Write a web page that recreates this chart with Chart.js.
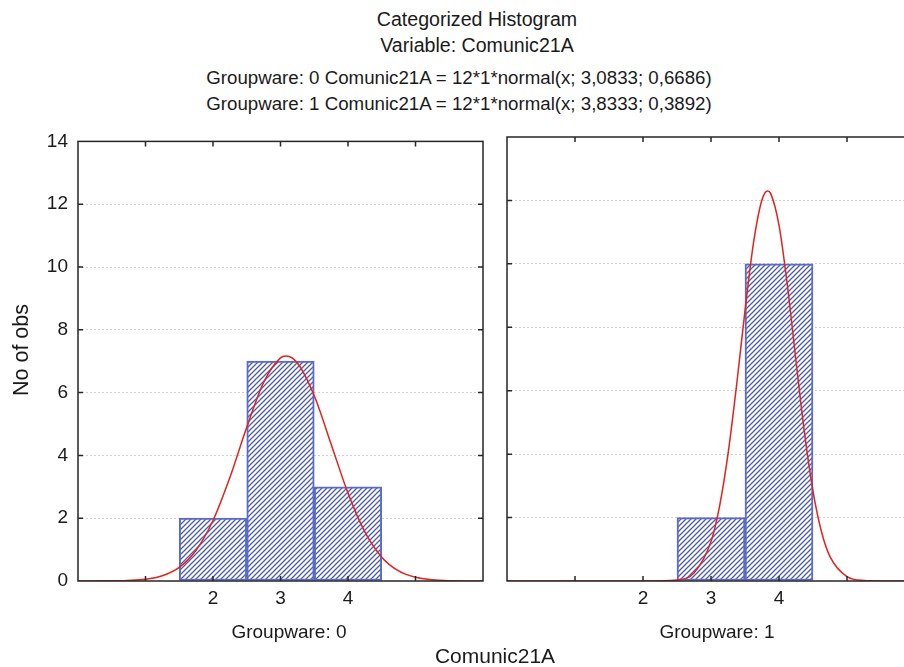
<!DOCTYPE html>
<html><head><meta charset="utf-8">
<script src="https://cdn.jsdelivr.net/npm/chart.js@4.4.1/dist/chart.umd.min.js"></script>
<style>
html,body{margin:0;padding:0;background:#fff;}
#wrap{position:relative;width:904px;height:667px;overflow:hidden;background:#fff;font-family:"Liberation Sans",Arial,sans-serif;color:#1a1a1a;}
.t{position:absolute;left:0;text-align:center;white-space:nowrap;}
.a{width:954px;font-size:19.6px;line-height:19px;}
.b{width:918px;font-size:18.7px;line-height:19px;}
.p{position:absolute;font-size:19px;line-height:19px;text-align:center;white-space:nowrap;width:300px;top:622px;}
#xt{position:absolute;left:0;width:990px;text-align:center;font-size:21px;line-height:21px;top:645px;white-space:nowrap;}
#yt{position:absolute;left:-79px;top:339px;width:200px;height:22px;line-height:22px;font-size:21.5px;text-align:center;transform:rotate(-90deg);white-space:nowrap;}
canvas{position:absolute;}
#c0{left:0;top:120px;}
#c1{left:495px;top:120px;}
</style></head>
<body><div id="wrap">
<div class="t a" style="top:10px">Categorized Histogram</div>
<div class="t a" style="top:36px">Variable: Comunic21A</div>
<div class="t b" style="top:68px">Groupware: 0 Comunic21A = 12*1*normal(x; 3,0833; 0,6686)</div>
<div class="t b" style="top:94px">Groupware: 1 Comunic21A = 12*1*normal(x; 3,8333; 0,3892)</div>
<canvas id="c0" width="495" height="547"></canvas>
<canvas id="c1" width="430" height="547"></canvas>
<div class="p" id="pt0" style="left:139px"></div>
<div class="p" id="pt1" style="left:567px"></div>
<div id="yt"></div>
<div id="xt">Comunic21A</div>
</div>
<script>
// ---- data ----
const categories = [2, 3, 4];
const counts0 = [2, 7, 3];
const counts1 = [0, 2, 10];
const xTickLabels = ['2', '3', '4'];
const panelTitles = ['Groupware: 0', 'Groupware: 1'];
const yTitle = 'No of obs';
const curveX0 = [0, 0.5, 1, 1.25, 1.5, 1.75, 2, 2.25, 2.5, 2.75, 3, 3.0833, 3.25, 3.5, 3.75, 4, 4.25, 4.5, 4.75, 5, 5.5, 6];
const curveY0 = [0, 0.004, 0.056, 0.167, 0.434, 0.981, 1.927, 3.296, 4.896, 6.325, 7.107, 7.163, 6.944, 5.899, 4.357, 2.799, 1.562, 0.759, 0.320, 0.118, 0.010, 0];
const curveX1 = [0, 1, 2, 2.5, 2.75, 3, 3.125, 3.25, 3.375, 3.5, 3.625, 3.75, 3.8333, 3.875, 4, 4.125, 4.25, 4.375, 4.5, 4.625, 4.75, 5, 5.25, 5.5, 6];
const curveY1 = [0, 0, 0, 0.035, 0.256, 1.243, 2.348, 4.000, 6.149, 8.524, 10.66, 12.02, 12.30, 12.23, 11.22, 9.29, 6.935, 4.669, 2.837, 1.553, 0.768, 0.138, 0.016, 0.001, 0];

document.getElementById('pt0').textContent = panelTitles[0];
document.getElementById('pt1').textContent = panelTitles[1];
document.getElementById('yt').textContent = yTitle;

// ---- styles ----
const FONT = {family: '"Liberation Sans", Arial, sans-serif', size: 19};
const TXT = '#1a1a1a';

function hatch() {
  const c = document.createElement('canvas');
  c.width = 5; c.height = 5;
  const g = c.getContext('2d');
  g.fillStyle = '#ffffff'; g.fillRect(0, 0, 5, 5);
  g.strokeStyle = '#4b5cb6'; g.lineWidth = 1.3;
  g.beginPath();
  g.moveTo(0, 5); g.lineTo(5, 0);
  g.moveTo(-1, 1); g.lineTo(1, -1);
  g.moveTo(4, 6); g.lineTo(6, 4);
  g.stroke();
  return g.createPattern(c, 'repeat');
}

const framePlugin = {
  id: 'frame',
  afterDraw(chart) {
    const {ctx, chartArea: a, scales: {x, y}} = chart;
    ctx.save();
    ctx.strokeStyle = '#262626';
    ctx.lineWidth = 1.5;
    ctx.strokeRect(a.left, a.top, a.right - a.left, a.bottom - a.top);
    const L = 5;
    ctx.beginPath();
    y.ticks.forEach(t => {
      if (t.value <= y.min || t.value >= y.max) return;
      const py = y.getPixelForValue(t.value);
      ctx.moveTo(a.left, py); ctx.lineTo(a.left + L, py);
      ctx.moveTo(a.right, py); ctx.lineTo(a.right - L, py);
    });
    x.ticks.forEach(t => {
      if (t.value <= x.min || t.value >= x.max) return;
      const px = x.getPixelForValue(t.value);
      ctx.moveTo(px, a.bottom); ctx.lineTo(px, a.bottom - L);
      ctx.moveTo(px, a.top); ctx.lineTo(px, a.top + L);
    });
    ctx.stroke();
    ctx.restore();
  }
};

function makeChart(id, counts, cx, cy, isLeft) {
  const ctx = document.getElementById(id).getContext('2d');
  return new Chart(ctx, {
    type: 'bar',
    data: {
      datasets: [
        {
          type: 'line', order: 0,
          data: cx.map((v, i) => ({x: v, y: cy[i]})),
          borderColor: '#e3221c', borderWidth: 1.5, pointRadius: 0,
          cubicInterpolationMode: 'monotone', fill: false
        },
        {
          type: 'bar', order: 1,
          data: categories.map((c, i) => ({x: c, y: counts[i]})),
          backgroundColor: hatch(), borderColor: '#5a6bc6', borderWidth: 2,
          borderSkipped: false, barPercentage: 1, categoryPercentage: 1
        }
      ]
    },
    options: {
      responsive: false, animation: false,
      layout: {padding: isLeft ? {top: 17, right: 12, left: 0, bottom: 0} : {top: 17, right: 10, left: 12, bottom: 0}},
      plugins: {legend: {display: false}, tooltip: {enabled: false}},
      scales: {
        x: {
          type: 'linear', min: 0, max: 6, offset: false,
          afterFit(s) { s.height = 86; },
          ticks: {stepSize: 1, autoSkip: false, maxRotation: 0, padding: 6, font: FONT, color: TXT,
            callback: v => xTickLabels.includes(String(v)) ? String(v) : ''},
          grid: {display: false, drawTicks: false},
          border: {display: false}
        },
        y: {
          type: 'linear', min: 0, max: 14,
          afterFit(s) { s.width = isLeft ? 78 : 0; },
          ticks: {stepSize: 2, padding: 10, font: FONT, color: TXT, display: isLeft},
          grid: {drawTicks: false, lineWidth: 1,
            color: c => (c.tick && c.tick.value > 0 && c.tick.value < 14) ? '#cfcfcf' : 'rgba(0,0,0,0)'},
          border: {display: false, dash: [2, 2]}
        }
      }
    },
    plugins: [framePlugin]
  });
}

makeChart('c0', counts0, curveX0, curveY0, true);
makeChart('c1', counts1, curveX1, curveY1, false);
</script>
</body></html>
